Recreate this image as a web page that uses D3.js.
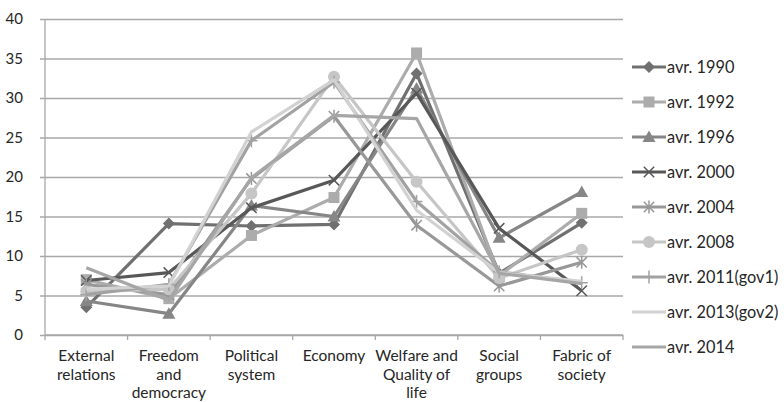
<!DOCTYPE html>
<html>
<head>
<meta charset="utf-8">
<script src="https://cdn.jsdelivr.net/npm/d3@7"></script>
<style>
  body { margin: 0; background: #fff; }
  svg text { font-family: Lato, "Open Sans", "Liberation Sans", sans-serif; fill: #262626; }
</style>
</head>
<body>
<svg id="chart" width="784" height="402"></svg>
<script>
// Categories (each label split into its display lines)
const categories = [
  ["External", "relations"],
  ["Freedom", "and", "democracy"],
  ["Political", "system"],
  ["Economy"],
  ["Welfare and", "Quality of", "life"],
  ["Social", "groups"],
  ["Fabric of", "society"]
];
const yTicks = [0, 5, 10, 15, 20, 25, 30, 35, 40];

// Series values, one per category
const seriesNames = ["avr. 1990", "avr. 1992", "avr. 1996", "avr. 2000", "avr. 2004",
                     "avr. 2008", "avr. 2011(gov1)", "avr. 2013(gov2)", "avr. 2014"];
const avr1990 = [3.5, 14.1, 13.8, 14.0, 33.1, 7.8, 14.2];
const avr1992 = [7.0, 4.6, 12.6, 17.4, 35.7, 7.5, 15.4];
const avr1996 = [4.3, 2.7, 16.4, 15.0, 31.2, 12.3, 18.1];
const avr2000 = [6.9, 7.9, 16.1, 19.6, 30.6, 13.5, 5.6];
const avr2004 = [6.4, 5.1, 19.8, 27.7, 13.9, 6.2, 9.2];
const avr2008 = [5.5, 5.8, 17.9, 32.7, 19.4, 7.2, 10.8];
const avr2011 = [5.1, 6.4, 24.6, 32.0, 16.9, 8.0, 6.6];
const avr2013 = [5.8, 6.2, 25.7, 32.3, 15.8, 7.9, 6.8];
const avr2014 = [8.5, 4.4, 19.9, 27.8, 27.4, 7.8, 6.5];
const seriesValues = [avr1990, avr1992, avr1996, avr2000, avr2004, avr2008, avr2011, avr2013, avr2014];

// Appearance of each series: stroke colour and marker shape
const styles = [
  { color: "#707070", marker: "diamond" },
  { color: "#acacac", marker: "square" },
  { color: "#868686", marker: "triangle" },
  { color: "#585858", marker: "x" },
  { color: "#989898", marker: "star" },
  { color: "#c6c6c6", marker: "circle" },
  { color: "#a2a2a2", marker: "plus" },
  { color: "#d2d2d2", marker: "none" },
  { color: "#a6a6a6", marker: "none" }
];

const svg = d3.select("#chart");
const plot = { left: 45, right: 623, top: 19, bottom: 335 };

const x = d3.scaleBand()
  .domain(categories.map((c, i) => i))
  .range([plot.left, plot.right])
  .padding(0);
const y = d3.scaleLinear().domain([0, 40]).range([plot.bottom, plot.top]);
const cx = i => x(i) + x.bandwidth() / 2;

const gridColor = "#a8a8a8";

// Horizontal gridlines with small ticks to the left of the axis
const yAxis = d3.axisLeft(y).tickValues(yTicks).tickSize(-(plot.right - plot.left)).tickPadding(10);
const gy = svg.append("g").attr("transform", `translate(${plot.left},0)`).call(yAxis);
gy.select(".domain").remove();
gy.selectAll(".tick line")
  .attr("x1", -5)
  .attr("stroke", gridColor)
  .attr("stroke-width", 1.3);
gy.selectAll(".tick text")
  .attr("x", -22)
  .attr("text-anchor", "end")
  .style("font-size", "15px");

// Vertical axis line
svg.append("line")
  .attr("x1", plot.left).attr("x2", plot.left)
  .attr("y1", plot.top).attr("y2", plot.bottom)
  .attr("stroke", gridColor).attr("stroke-width", 1.3);

// Category axis with ticks at band boundaries
svg.append("line")
  .attr("x1", plot.left).attr("x2", plot.right)
  .attr("y1", plot.bottom).attr("y2", plot.bottom)
  .attr("stroke", gridColor).attr("stroke-width", 1.3);
const bounds = categories.map((c, i) => x(i)).concat([plot.right]);
svg.append("g").selectAll("line").data(bounds).join("line")
  .attr("x1", d => d).attr("x2", d => d)
  .attr("y1", plot.bottom).attr("y2", plot.bottom + 5)
  .attr("stroke", gridColor).attr("stroke-width", 1.3);

// Category labels
const xl = svg.append("g");
categories.forEach((lines, i) => {
  const t = xl.append("text")
    .attr("text-anchor", "middle")
    .attr("x", cx(i))
    .attr("y", 361)
    .style("font-size", "15.5px");
  lines.forEach((ln, k) => {
    t.append("tspan").attr("x", cx(i)).attr("dy", k === 0 ? 0 : 18.5).text(ln);
  });
});

// Marker drawing
function drawMarker(g, kind, color, px, py) {
  const s = 5.2;
  if (kind === "diamond") {
    g.append("path").attr("d", `M${px},${py - 6}L${px + 6},${py}L${px},${py + 6}L${px - 6},${py}Z`).attr("fill", color);
  } else if (kind === "square") {
    g.append("rect").attr("x", px - 5.5).attr("y", py - 5.5).attr("width", 11).attr("height", 11).attr("fill", color);
  } else if (kind === "triangle") {
    g.append("path").attr("d", `M${px},${py - 6.5}L${px + 6.5},${py + 5}L${px - 6.5},${py + 5}Z`).attr("fill", color);
  } else if (kind === "circle") {
    g.append("circle").attr("cx", px).attr("cy", py).attr("r", 6).attr("fill", color);
  } else if (kind === "x") {
    g.append("path").attr("d", `M${px - s},${py - s}L${px + s},${py + s}M${px - s},${py + s}L${px + s},${py - s}`)
      .attr("stroke", color).attr("stroke-width", 1.5).attr("fill", "none");
  } else if (kind === "star") {
    g.append("path").attr("d", `M${px - s},${py - s}L${px + s},${py + s}M${px - s},${py + s}L${px + s},${py - s}M${px},${py - 6.5}L${px},${py + 6.5}`)
      .attr("stroke", color).attr("stroke-width", 1.5).attr("fill", "none");
  } else if (kind === "plus") {
    g.append("path").attr("d", `M${px},${py - 6.5}L${px},${py + 6.5}M${px - 6},${py}L${px + 6},${py}`)
      .attr("stroke", color).attr("stroke-width", 1.5).attr("fill", "none");
  }
}

// Series lines and markers
const line = d3.line().x((d, i) => cx(i)).y(d => y(d));
const series = svg.append("g");
seriesValues.forEach((vals, si) => {
  const st = styles[si];
  const g = series.append("g");
  g.append("path")
    .attr("d", line(vals))
    .attr("fill", "none")
    .attr("stroke", st.color)
    .attr("stroke-width", 3.2)
    .attr("stroke-linejoin", "round");
  vals.forEach((v, i) => drawMarker(g, st.marker, st.color, cx(i), y(v)));
});

// Legend
const legend = svg.append("g");
seriesNames.forEach((name, si) => {
  const st = styles[si];
  const ly = 67 + si * 35;
  const g = legend.append("g");
  g.append("line").attr("x1", 632).attr("x2", 666).attr("y1", ly).attr("y2", ly)
    .attr("stroke", st.color).attr("stroke-width", 3.2);
  drawMarker(g, st.marker, st.color, 649, ly);
  g.append("text").attr("x", 667).attr("y", ly + 5.5).style("font-size", "16.3px").text(name);
});
</script>
</body>
</html>
